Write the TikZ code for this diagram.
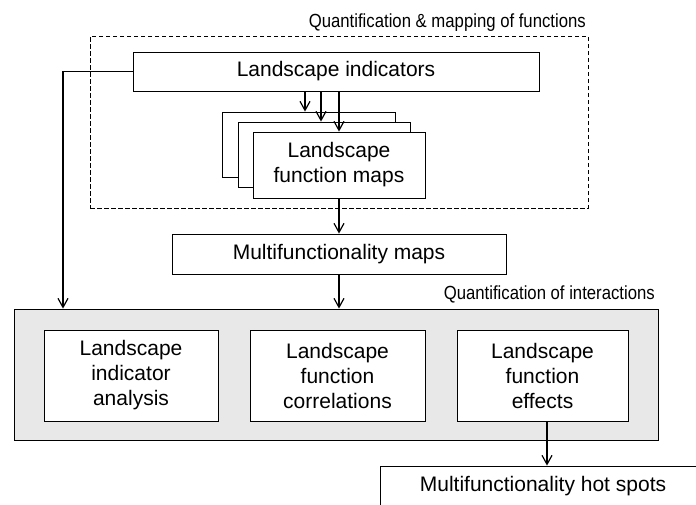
\documentclass[tikz,border=0pt]{standalone}
\usepackage{fontspec}
\setmainfont{Liberation Sans}
\newfontfamily\narrowfont[FakeStretch=0.88]{Liberation Sans}
\usetikzlibrary{arrows.meta,calc}
\definecolor{panelgrey}{RGB}{232,232,232}
\tikzset{
  boxnode/.style={draw, line width=0.9pt, fill=white, rectangle, inner sep=0pt,
    align=center, font=\fontsize{21}{25}\selectfont},
  arr/.style={line width=1.3pt, -{Straight Barb[length=9pt,width=10pt,line width=1.2pt]}},
  plainline/.style={line width=1.3pt},
  grouplabel/.style={font=\narrowfont\fontsize{19}{22}\selectfont, inner sep=0pt},
}
\begin{document}
\begin{tikzpicture}[x=1pt,y=-1pt]
\useasboundingbox (0,0) rectangle (696,504);
% dashed group
\node[draw, dashed, dash pattern=on 4.5pt off 2.5pt, line width=0.9pt, minimum width=498pt, minimum height=172pt, inner sep=0pt] (dash) at (339,122) {};
\node[grouplabel, anchor=base east] (lab1) at (586,27) {Quantification \& mapping of functions};
% landscape indicators
\node[boxnode, minimum width=406pt, minimum height=39pt] (LI) at (336,71.5) {Landscape indicators};
% stacked function maps
\node[boxnode, minimum width=173pt, minimum height=65pt] (back) at (308.5,144.5) {};
\node[boxnode, minimum width=172pt, minimum height=65pt] (mid) at (324,154.5) {};
\node[boxnode, minimum width=172pt, minimum height=66pt] (front) at (339,165) {Landscape\\function maps};
\coordinate (a1) at (305,0);
\coordinate (a2) at (321,0);
\coordinate (a3) at (339,0);
\draw[arr] (LI.south -| a1) -- (back.north -| a1);
\draw[arr] (LI.south -| a2) -- (mid.north -| a2);
\draw[arr] (LI.south -| a3) -- (front.north -| a3);
% multifunctionality maps
\node[boxnode, minimum width=334pt, minimum height=40pt] (MM) at (339,254) {Multifunctionality maps};
\draw[arr] (front.south) -- (MM.north);
% interactions panel
\node[draw, line width=0.9pt, fill=panelgrey, minimum width=644pt, minimum height=131pt, inner sep=0pt] (grey) at (336,374.5) {};
\node[grouplabel, anchor=base east] (lab2) at (655,299) {Quantification of interactions};
\node[boxnode, minimum width=174pt, minimum height=91pt] (b1) at (131,375.5) {Landscape\\indicator\\analysis};
\node[boxnode, minimum width=175pt, minimum height=91pt] (b2) at (337.5,375.5) {Landscape\\function\\correlations};
\node[boxnode, minimum width=171pt, minimum height=91pt] (b3) at (542.5,375.5) {Landscape\\function\\effects};
\coordinate (cL) at (63,0);
\draw[arr] (LI.west) -| (grey.north -| cL);
\draw[arr] (MM.south) -- (MM.south |- grey.north);
% hot spots
\node[boxnode, minimum width=326pt, minimum height=40pt] (hot) at (543,486) {Multifunctionality hot spots};
\coordinate (hx) at (547,0);
\draw[arr] (b3.south -| hx) -- (hot.north -| hx);
\end{tikzpicture}
\end{document}
